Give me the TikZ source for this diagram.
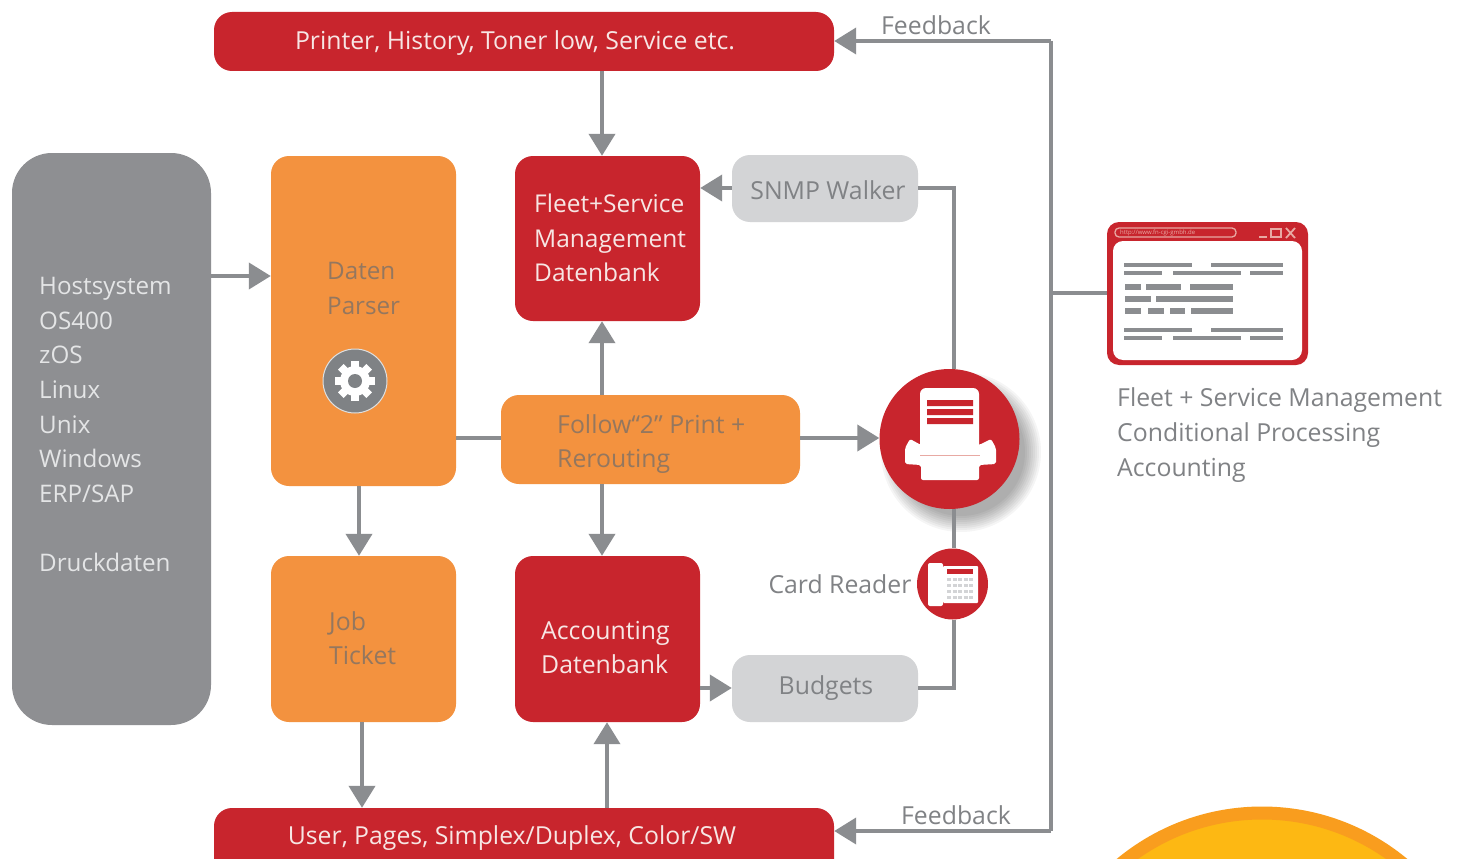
\documentclass[tikz,border=0pt]{standalone}
\usepackage{fontspec}
\setmainfont{Open Sans}
\usetikzlibrary{arrows.meta,calc}
\definecolor{cred}{HTML}{C8252D}
\definecolor{corange}{HTML}{F3923F}
\definecolor{cgray}{HTML}{8E8F92}
\definecolor{clight}{HTML}{D3D4D6}
\definecolor{cline}{HTML}{8B8D90}
\definecolor{ctext}{HTML}{808285}
\definecolor{corangetext}{HTML}{94775F}
\definecolor{cpale}{HTML}{E8A9A3}
\definecolor{csunout}{HTML}{F99D1E}
\definecolor{csunin}{HTML}{FDB813}
\definecolor{chosttext}{HTML}{E4E5E6}
\definecolor{cwhitetext}{HTML}{F7E6E4}
\definecolor{cgear}{HTML}{7F8285}
\tikzset{
  block/.style={rounded corners=18pt,inner sep=0pt,draw=none},
  redblock/.style={block,fill=cred},
  orangeblock/.style={block,fill=corange},
  lightblock/.style={block,fill=clight},
  txt/.style={font=\fontsize{24.8}{34.6}\selectfont,inner sep=0pt,align=left},
  ltxt/.style={txt,anchor=west},
  conn/.style={draw=cline,line width=4pt},
  arr/.style={conn,-{Triangle[length=22pt,width=26pt]}},
  wl/.style={draw=cline,line width=3.2pt},
  wb/.style={draw=cline,line width=5.5pt}
}
\newcommand{\boxat}[6]{\node[#1,minimum width={(#4-#3)*1pt},minimum height={(#6-#5)*1pt}] (#2) at ({(#3+#4)/2},{(#5+#6)/2}) {};}
\begin{document}
\begin{tikzpicture}[x=1pt,y=-1pt]
\useasboundingbox (0,0) rectangle (1462,859);
\begin{scope}
\clip (0,0) rectangle (1462,859);
\fill[white] (0,0) rectangle (1462,859);
% sun at the lower right
\node[circle,fill=csunin,draw=csunout,line width=13pt,minimum size=442pt,inner sep=0pt] (sun) at (1262,1034) {};
% blocks
\boxat{redblock}{top}{214}{834}{12}{71}
\boxat{redblock}{bottom}{214}{834}{808}{880}
\boxat{block,fill=cgray,rounded corners=40pt}{host}{12}{211}{153}{725}
\boxat{orangeblock}{parser}{271}{456}{156}{486}
\boxat{redblock}{fleet}{515}{700}{156}{321}
\boxat{lightblock}{snmp}{732}{918}{155}{222}
\boxat{orangeblock}{follow}{501}{800}{395}{484}
\boxat{orangeblock}{job}{271}{456}{556}{722}
\boxat{redblock}{acc}{515}{700}{556}{722}
\boxat{lightblock}{budgets}{732}{918}{655}{722}
% shadow of the printer disc
\foreach \r in {80,78,...,64}{\fill[black,opacity=0.04] (961,452) circle (\r);}
% connectors
\coordinate (spinetop) at (1051,41);
\coordinate (spinemid) at (1051,293);
\coordinate (spinebot) at (1051,831);
\coordinate (snmpturn) at (954,188);
\coordinate (budgetturn) at (954,688);
\node[circle,fill=cred,minimum size=140pt,inner sep=0pt] (printer) at (949.5,439) {};
\node[circle,fill=cred,minimum size=71pt,inner sep=0pt] (card) at (952.5,584) {};
\boxat{block,fill=cred,rounded corners=12pt}{window}{1107}{1308}{222}{365}
\draw[arr] ([xshift=78pt]top.south) -- ([xshift=-5.5pt]fleet.north);
\draw[arr] (host.east |- 0,276) -- (parser.west |- 0,276);
\draw[conn] (parser.east |- 0,438) -- (follow.west |- 0,438);
\draw[arr] ([xshift=-48.5pt]follow.north) -- ([xshift=-5.5pt]fleet.south);
\draw[arr] ([xshift=-48.5pt]follow.south) -- ([xshift=-5.5pt]acc.north);
\draw[arr] (follow.east |- 0,438) -- (printer.west |- 0,438);
\draw[arr] ([xshift=-4.5pt]parser.south) -- ([xshift=-4.5pt]job.north);
\draw[arr] ([xshift=-1.5pt]job.south) -- ([xshift=-1.5pt]job.south |- bottom.north);
\draw[arr] ([xshift=83pt]bottom.north) -- ([xshift=-0.5pt]acc.south);
\draw[arr] (acc.east |- 0,688) -- (budgets.west |- 0,688);
\draw[arr] (snmp.west |- 0,188) -- (fleet.east |- 0,188);
\draw[conn,line join=miter] (snmp.east |- snmpturn) -- (snmpturn) -- (printer.north -| snmpturn);
\draw[conn] (printer.south -| snmpturn) -- (card.north -| snmpturn);
\draw[conn,line join=miter] (card.south -| budgetturn) -- (budgetturn) -- (budgets.east |- budgetturn);
\draw[arr] (spinetop) -- (top.east |- spinetop);
\draw[conn] (spinetop) -- (spinebot);
\draw[arr] (spinebot) -- (bottom.east |- spinebot);
\draw[conn] (spinemid) -- (window.west |- spinemid);
% printer glyph
\fill[white,rounded corners=6pt] (920,388) rectangle (979,450);
\fill[cred] (927,400) rectangle (973,406) (927,409) rectangle (973,415) (927,418) rectangle (973,424);
\fill[white,rounded corners=2pt] (905,448) -- (910,439) -- (921,445) -- (979,445) -- (991,439) -- (996,448) -- (996,464) -- (979,465) -- (979,480) -- (921,480) -- (921,465) -- (905,464) -- cycle;
\draw[cpale,line width=1pt] (920,455) -- (980,455);
% card reader glyph
\fill[white,rounded corners=2pt] (928,563) rectangle (943,606);
\fill[white,rounded corners=1pt] (943,566) rectangle (978,603);
\fill[cred] (947,569) rectangle (973,574);
\foreach \yy in {579,585,591,597}{\draw[clight,line width=3pt,dash pattern=on 4pt off 1.5pt] (947,\yy) -- (973,\yy);}
% window glyph
\fill[white,rounded corners=10pt] (1113,241) rectangle (1302,360);
\draw[cpale,line width=1.3pt,rounded corners=4pt] (1115,228) rectangle (1236,237);
\node[inner sep=0pt,anchor=west,text=cpale,font=\fontsize{6}{7}\selectfont] (url) at (1120,232.5) {http://www.fn-cgi-gmbh.de};
\draw[cpale,line width=1.8pt] (1259,237) -- (1267,237);
\draw[cpale,line width=1.8pt] (1271,229) rectangle (1281,237);
\draw[cpale,line width=1.8pt] (1286,228) -- (1295,238) (1295,228) -- (1286,238);
\foreach \oo in {0,65}{
  \draw[wl] (1124,265+\oo) -- (1192,265+\oo) (1211,265+\oo) -- (1283,265+\oo);
  \draw[wl] (1124,273+\oo) -- (1162,273+\oo) (1173,273+\oo) -- (1241,273+\oo) (1250,273+\oo) -- (1283,273+\oo);
}
\draw[wb] (1125,287) -- (1141,287) (1146,287) -- (1181,287) (1190,287) -- (1233,287);
\draw[wb] (1125,299) -- (1151,299) (1156,299) -- (1233,299);
\draw[wb] (1125,311) -- (1141,311) (1148,311) -- (1164,311) (1170,311) -- (1185,311) (1191,311) -- (1233,311);
% gear
\node[circle,fill=cgear,draw=white!75!cgear,line width=1pt,minimum size=64pt,inner sep=0pt] (gear) at (355,381) {};
\foreach \a in {0,45,...,315}{\fill[white,rotate around={\a:(gear.center)}] (351,361) rectangle (359,370);}
\fill[white] (gear.center) circle (15);
\fill[cgear] (gear.center) circle (7);
% texts
\node[txt,text=cwhitetext] (ttop) at (515,43) {Printer, History, Toner low, Service etc.};
\node[txt,text=cwhitetext] (tbottom) at (512,838) {User, Pages, Simplex/Duplex, Color/SW};
\node[ltxt,text=chosttext,font=\fontsize{24.2}{34.6}\selectfont] (thost) at (39,424.5) {Hostsystem\\OS400\\zOS\\Linux\\Unix\\Windows\\ERP/SAP\\[34.6pt]Druckdaten};
\node[ltxt,text=corangetext,font=\fontsize{24.2}{34.6}\selectfont] (tparser) at (327,288.5) {Daten\\Parser};
\node[ltxt,text=cwhitetext,font=\fontsize{24.5}{34.6}\selectfont] (tfleet) at (534,238) {Fleet+Service\\Management\\Datenbank};
\node[ltxt,text=corangetext] (tfollow) at (557,444) {Follow“2” Print +\\Rerouting};
\node[ltxt,text=corangetext] (tjob) at (329,638) {Job\\Ticket};
\node[ltxt,text=cwhitetext] (tacc) at (541,647.5) {Accounting\\Datenbank};
\node[txt,text=ctext] (tsnmp) at (828,190) {SNMP Walker};
\node[txt,text=ctext] (tbudgets) at (826,688) {Budgets};
\node[txt,text=ctext] (tcard) at (840,584) {Card Reader};
\node[txt,text=ctext] (tfb1) at (936,25) {Feedback};
\node[txt,text=ctext] (tfb2) at (956,815) {Feedback};
\node[ltxt,text=ctext] (tright) at (1117,435) {Fleet + Service Management\\Conditional Processing\\Accounting};
\end{scope}
\end{tikzpicture}
\end{document}
